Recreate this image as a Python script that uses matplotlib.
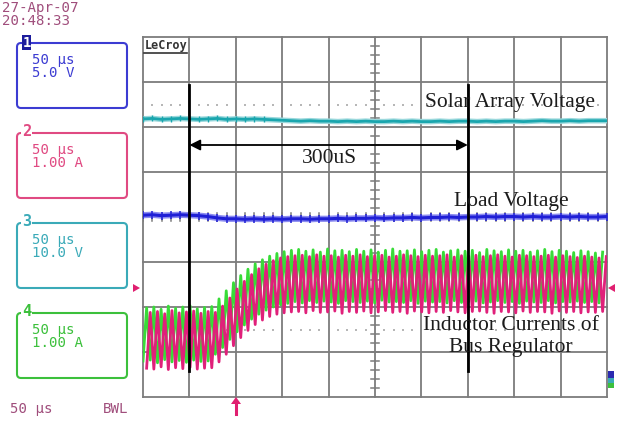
import numpy as np
import matplotlib.pyplot as plt
from matplotlib.patches import FancyBboxPatch, Rectangle, Polygon
from matplotlib.transforms import Affine2D

W, H = 627, 424

# time in us (50 us/div, 10 div), levels in divisions from screen centre
sample_t = list(range(0, 501, 10))
solar_v = [2.18, 2.19, 2.17, 2.18, 2.19, 2.18, 2.17, 2.18, 2.19, 2.17,
           2.18, 2.17, 2.18, 2.17, 2.16, 2.15, 2.14, 2.13, 2.14, 2.13,
           2.13, 2.12, 2.13, 2.12, 2.13, 2.12, 2.12, 2.13, 2.12, 2.13,
           2.12, 2.12, 2.13, 2.12, 2.13, 2.13, 2.12, 2.13, 2.12, 2.13,
           2.13, 2.12, 2.13, 2.14, 2.13, 2.13, 2.14, 2.13, 2.14, 2.14, 2.14]
load_v = [0.04, 0.05, 0.03, 0.04, 0.05, 0.04, 0.03, 0.01, -0.02, -0.04,
          -0.04, -0.05, -0.04, -0.05, -0.04, -0.05, -0.04, -0.04, -0.05, -0.04,
          -0.04, -0.03, -0.04, -0.03, -0.03, -0.02, -0.03, -0.02, -0.02, -0.01,
          -0.02, -0.01, -0.01, 0.00, -0.01, 0.00, 0.00, 0.01, 0.00, 0.01,
          0.01, 0.00, 0.01, 0.00, 0.00, 0.01, 0.00, 0.01, 0.00, 0.00, 0.01]

# inductor current ripple, one peak / valley per switching cycle
sw_period = 7.8
green_hi = [-2.02, -2.00, -2.05, -1.98, -2.03, -2.00, -1.97, -2.04, -2.01, -1.99,
            -1.82, -1.64, -1.46, -1.30, -1.16, -1.04, -0.95, -0.87, -0.81, -0.77, -0.74,
            -0.72, -0.76, -0.73, -0.78, -0.71, -0.75, -0.74, -0.77, -0.72, -0.76,
            -0.73, -0.78, -0.74, -0.71, -0.76, -0.75, -0.73, -0.77, -0.74, -0.72,
            -0.78, -0.75, -0.73, -0.76, -0.74, -0.79, -0.72, -0.75, -0.77, -0.73,
            -0.76, -0.74, -0.78, -0.75, -0.72, -0.77, -0.74, -0.76, -0.79, -0.75,
            -0.77, -0.80, -0.78]
green_lo = [-3.20, -3.18, -3.24, -3.17, -3.22, -3.19, -3.23, -3.18, -3.21, -3.20,
            -3.05, -2.90, -2.72, -2.55, -2.40, -2.27, -2.16, -2.07, -2.00, -1.95, -1.92,
            -1.88, -1.91, -1.86, -1.90, -1.87, -1.89, -1.92, -1.86, -1.88, -1.90,
            -1.87, -1.91, -1.85, -1.89, -1.88, -1.90, -1.86, -1.92, -1.87, -1.89,
            -1.88, -1.91, -1.86, -1.90, -1.88, -1.87, -1.91, -1.89, -1.86, -1.90,
            -1.88, -1.92, -1.87, -1.89, -1.90, -1.86, -1.91, -1.88, -1.89, -1.87,
            -1.90, -1.88, -1.91]
pink_hi = [-2.12, -2.10, -2.15, -2.08, -2.13, -2.11, -2.09, -2.14, -2.10, -2.12,
           -1.98, -1.80, -1.60, -1.43, -1.28, -1.15, -1.05, -0.97, -0.91, -0.88, -0.86,
           -0.85, -0.88, -0.84, -0.87, -0.86, -0.89, -0.85, -0.87, -0.84, -0.88,
           -0.86, -0.85, -0.89, -0.87, -0.84, -0.86, -0.88, -0.85, -0.87, -0.86,
           -0.84, -0.89, -0.86, -0.87, -0.85, -0.88, -0.86, -0.84, -0.87, -0.89,
           -0.85, -0.86, -0.88, -0.87, -0.85, -0.89, -0.86, -0.88, -0.90, -0.87,
           -0.89, -0.91, -0.88]
pink_lo = [-3.36, -3.38, -3.33, -3.39, -3.35, -3.37, -3.34, -3.38, -3.36, -3.35,
           -3.22, -3.05, -2.86, -2.68, -2.52, -2.39, -2.29, -2.21, -2.16, -2.13, -2.11,
           -2.10, -2.13, -2.08, -2.12, -2.11, -2.09, -2.14, -2.10, -2.12, -2.09,
           -2.13, -2.11, -2.08, -2.12, -2.10, -2.14, -2.09, -2.11, -2.13, -2.10,
           -2.12, -2.08, -2.11, -2.13, -2.10, -2.09, -2.12, -2.14, -2.10, -2.11,
           -2.13, -2.09, -2.12, -2.10, -2.11, -2.14, -2.09, -2.12, -2.10, -2.13,
           -2.11, -2.12, -2.10]

cursor_t = [50, 350]

channels = [("1", "5.0 V", "#3c3cd2"), ("2", "1.00 A", "#e04a82"),
            ("3", "10.0 V", "#3aaab8"), ("4", "1.00 A", "#3cc03c")]
box_tops = [43, 133, 223, 313]


def ripple(lo, hi, t0):
    t, v = [], []
    for k in range(len(lo)):
        t += [t0 + k * sw_period, t0 + (k + 0.5) * sw_period]
        v += [lo[k], hi[k]]
    return t, v


fig = plt.figure(figsize=(W / 100, H / 100), dpi=100)
px = Affine2D().scale(1 / W, -1 / H).translate(0, 1) + fig.transFigure

ax = fig.add_axes([143 / W, 1 - 397 / H, 464 / W, 360 / H])
ax.set_xlim(0, 500)
ax.set_ylim(-4, 4)
ax.axis('off')

gc = '#7c7c7c'
for i in range(11):
    ax.plot([i * 50, i * 50], [-4, 4], color=gc, lw=1.3, clip_on=False, zorder=1)
for j in range(9):
    ax.plot([0, 500], [j - 4, j - 4], color=gc, lw=1.3, clip_on=False, zorder=1)
# centre graticule ticks
for y in np.arange(-4, 4.01, 0.2):
    ax.plot([245.7, 254.3], [y, y], color=gc, lw=1.1, zorder=1)
for x in np.arange(0, 500.1, 10):
    ax.plot([x, x], [-0.09, 0.09], color=gc, lw=1.1, zorder=1)
# dotted reference lines
dots = [x for x in np.arange(10, 500, 10) if x % 50]
for yref in (2.5, -2.5):
    ax.plot(dots, [yref] * len(dots), ls='none', marker='_', ms=2, mew=1.3,
            color='#b0b0b0', zorder=1)

# traces
ax.plot(sample_t, solar_v, color='#9ad8dc', lw=4.0, zorder=2, solid_capstyle='butt')
ax.plot(sample_t, solar_v, color='#1aa6ae', lw=2.0, zorder=3)
ax.plot(sample_t[:14], solar_v[:14], ls='none', marker='|', ms=4, mew=1,
        color='#1aa6ae', zorder=3)
ax.plot(sample_t, load_v, color='#8c8cf0', lw=4.5, zorder=2, solid_capstyle='butt')
ax.plot(sample_t, load_v, color='#1f1fd6', lw=2.2, marker='|', ms=6, mew=1.1, zorder=3)

gt, gv = ripple(green_lo, green_hi, 0.0)
pt, pv = ripple(pink_lo, pink_hi, sw_period / 2)
ax.plot(gt, gv, color='#38dc38', lw=2.0, zorder=3)
ax.plot(pt, pv, color='#e0207a', lw=2.0, zorder=4)

for ct in cursor_t:
    ax.plot([ct, ct], [-3.43, 2.93], color='k', lw=2, zorder=6)
ax.annotate('', xy=(cursor_t[0], 1.6), xytext=(cursor_t[1], 1.6),
            arrowprops=dict(arrowstyle='<|-|>', color='k', lw=1.3,
                            mutation_scale=16, shrinkA=0, shrinkB=0), zorder=6)

serif = dict(family='Liberation Serif', fontsize=15.5, color='#1c1c1c', zorder=7)
ax.text(201, 1.2, "300uS", ha='center', va='baseline', **serif)
ax.text(396, 2.44, "Solar Array Voltage", ha='center', va='baseline', **serif)
ax.text(397, 0.24, "Load Voltage", ha='center', va='baseline', **serif)
ax.text(396, -2.51, "Inductor Currents of", ha='center', va='baseline', **serif)
ax.text(396, -3.0, "Bus Regulator", ha='center', va='baseline', **serif)

# LeCroy badge
fig.text(145, 46, "LeCroy", transform=px, fontsize=8.5, fontweight='bold',
         family='DejaVu Sans Mono', color='#333333', va='center', ha='left')
fig.add_artist(plt.Line2D([144, 187], [53, 53], transform=px, color='#333333', lw=1.2))

# left info panel
mono = dict(family='DejaVu Sans Mono', fontsize=10.2)
mauve = '#a04e7c'
fig.text(2, 8, "27-Apr-07", transform=px, color=mauve, va='center', **mono)
fig.text(2, 21, "20:48:33", transform=px, color=mauve, va='center', **mono)
for (num, scale, col), top in zip(channels, box_tops):
    fig.add_artist(FancyBboxPatch((17, top), 110, 65, transform=px,
                                  boxstyle="round,pad=0,rounding_size=4",
                                  fc='none', ec=col, lw=1.5))
    if num == "1":
        fig.add_artist(Rectangle((22, top - 8), 9, 15, transform=px,
                                 fc='#1c1c9c', ec='none'))
        fig.text(26.5, top, num, transform=px, color='white', fontsize=10,
                 fontweight='bold', family='DejaVu Sans Mono', ha='center', va='center')
    else:
        fig.text(26.5, top - 1, num, transform=px, color=col, fontsize=11,
                 fontweight='bold', family='DejaVu Sans Mono', ha='center', va='center',
                 bbox=dict(fc='white', ec='none', pad=0.3))
    fig.text(32, top + 17, "50 µs", transform=px, color=col, va='center', **mono)
    fig.text(32, top + 30, scale, transform=px, color=col, va='center', **mono)

fig.text(10, 409, "50 µs", transform=px, color=mauve, va='center', **mono)
fig.text(103, 409, "BWL", transform=px, color=mauve, va='center', **mono)

# level / trigger markers
pinkm = '#e01f70'
fig.add_artist(Polygon([[133, 284], [140, 288], [133, 292]], transform=px, fc=pinkm, ec='none'))
fig.add_artist(Polygon([[615, 284], [608, 288], [615, 292]], transform=px, fc=pinkm, ec='none'))
fig.add_artist(Polygon([[231, 404], [236, 397], [241, 404]], transform=px, fc=pinkm, ec='none'))
fig.add_artist(plt.Line2D([236, 236], [402, 414], transform=px, color=pinkm, lw=2.2))
fig.add_artist(Rectangle((608, 371), 6, 7, transform=px, fc='#2a2ab0', ec='none'))
fig.add_artist(Rectangle((608, 378), 6, 5, transform=px, fc='#3aaab8', ec='none'))
fig.add_artist(Rectangle((608, 383), 6, 5, transform=px, fc='#3cc03c', ec='none'))

fig.savefig('out.png', dpi=100)
